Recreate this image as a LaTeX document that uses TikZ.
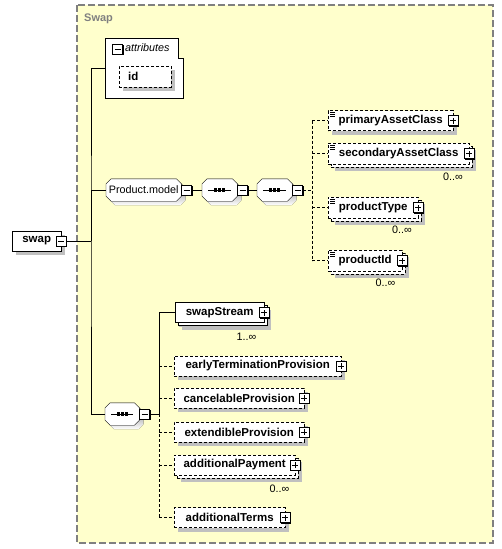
\documentclass[tikz,border=0pt]{standalone}
\usepackage{fontspec}
\setmainfont{Liberation Sans}
\usetikzlibrary{shadows}
\definecolor{schemabg}{HTML}{FFFFCC}
\definecolor{schemaline}{HTML}{808080}
\definecolor{shade}{HTML}{C0C0C0}
\newcommand{\elemfont}{\fontsize{11.5}{13}\selectfont\bfseries}
\newcommand{\notefont}{\fontsize{10.8}{12}\selectfont}
\pgfdeclarelayer{frame}
\pgfdeclarelayer{back}
\pgfsetlayers{frame,back,main}
% octagon outline round a node
\newcommand{\octpath}[1]{([xshift=5pt]#1.north west) -- ([xshift=-5pt]#1.north east) -- ([yshift=-5pt]#1.north east)
  -- ([yshift=5pt]#1.south east) -- ([xshift=-5pt]#1.south east) -- ([xshift=5pt]#1.south west)
  -- ([yshift=5pt]#1.south west) -- ([yshift=-5pt]#1.north west) -- cycle}
\newcommand{\chamfer}[1]{%
  \begin{pgfonlayer}{back}
    \fill[shade, transform canvas={shift={(4pt,-4pt)}}] \octpath{#1};
    \draw[fill=white] \octpath{#1};
  \end{pgfonlayer}}

\begin{document}
\begin{tikzpicture}[x=1pt, y=-1pt, line width=1pt]

\tikzset{elem/.style = {draw, fill=white, anchor=west, font=\elemfont, inner xsep=2pt, inner ysep=0pt, minimum height=20pt,
  drop shadow={shadow xshift=4pt, shadow yshift=-4pt, fill=shade, opacity=1}}}
\tikzset{opt/.style = {elem, dash pattern=on 3pt off 2pt}}
\tikzset{many/.style = {drop shadow={shadow xshift=7pt, shadow yshift=-7pt, fill=shade, opacity=1},
  general shadow={shadow xshift=3pt, shadow yshift=-3pt, draw=black, fill=white, line width=1pt}}}
\tikzset{optmany/.style = {drop shadow={shadow xshift=7pt, shadow yshift=-7pt, fill=shade, opacity=1},
  general shadow={shadow xshift=3pt, shadow yshift=-3pt, draw=black, fill=white, line width=1pt, dash pattern=on 3pt off 2pt}}}
\tikzset{member/.style = {path picture={\foreach \k in {2,4,6}
  \draw[line width=0.8pt, solid] ([xshift=2pt, yshift=-\k pt]path picture bounding box.north west) -- +(5pt,0);}}}
\tikzset{seq/.style = {anchor=west, minimum width=35pt, minimum height=22pt, inner sep=0pt,
  path picture={\draw ([xshift=6pt]path picture bounding box.west) -- ([xshift=-6pt]path picture bounding box.east);
    \foreach \d in {-4,0,4} \fill ([xshift=\d pt]path picture bounding box.center) +(-1.6pt,-1.6pt) rectangle +(1.6pt,1.6pt);}}}
\tikzset{group/.style = {anchor=west, minimum width=75pt, minimum height=22pt, inner sep=0pt, font=\notefont}}
\tikzset{minusbox/.style = {draw, fill=white, solid, minimum size=10pt, inner sep=0pt,
  drop shadow={shadow xshift=1pt, shadow yshift=-1pt, fill=black, opacity=1},
  path picture={\draw[solid] ([xshift=2pt]path picture bounding box.west) -- ([xshift=-2pt]path picture bounding box.east);}}}
\tikzset{plusbox/.style = {minusbox,
  path picture={\draw[solid] ([xshift=2pt]path picture bounding box.west) -- ([xshift=-2pt]path picture bounding box.east);
    \draw[solid] ([yshift=2pt]path picture bounding box.south) -- ([yshift=-2pt]path picture bounding box.north);}}}
\tikzset{mult/.style = {font=\notefont, inner sep=0pt}}

\useasboundingbox (0,0) rectangle (501,549);

%group frame
\begin{pgfonlayer}{frame}
\draw[schemaline, fill=schemabg, line width=1.5pt, dash pattern=on 7pt off 3pt] (77,5) rectangle (493,543);
\end{pgfonlayer}
\node[anchor=west, font=\fontsize{11}{13}\selectfont\bfseries, text=schemaline, inner sep=0pt] (grplabel) at (84,19) {Swap};

%root
\node[elem, minimum width=49pt] (swap) at (12,241) {swap};
\node[minusbox] (swapm) at (swap.east) {};

%attributes
\node[minimum width=78pt, minimum height=60pt, inner sep=0pt] (attrs) at (144,68) {};
\draw[fill=white] (attrs.north west) -- ([xshift=-5pt]attrs.north east) |- ([yshift=-20pt]attrs.north east)
  -- (attrs.south east) -- (attrs.south west) -- cycle;
\node[minusbox] (attrm) at (117.5,49) {};
\node[anchor=west, font=\notefont\itshape, inner sep=0pt] (attrl) at (125,48) {attributes};
\node[opt, minimum height=21pt, text width=34pt, inner xsep=9pt, align=left] (id) at (119,76.5) {id};

%product model
\node[group] (pm) at (106,190) {Product.model};
\chamfer{pm}
\node[minusbox, anchor=west] (pmm) at (pm.east) {};
\node[seq] (seq1) at (202,190) {};
\chamfer{seq1}
\node[minusbox, anchor=west] (seq1m) at (seq1.east) {};
\node[seq] (seq2) at (257,190) {};
\chamfer{seq2}
\node[minusbox, anchor=west] (seq2m) at (seq2.east) {};

\node[opt, member, minimum width=125pt] (pac) at (328,120.5) {primaryAssetClass};
\node[plusbox] (pacp) at (pac.east) {};
\node[opt, optmany, member, minimum width=141pt, minimum height=21pt] (sac) at (328,153.5) {secondaryAssetClass};
\node[plusbox] (sacp) at (sac.east) {};
\node[mult] (sacmult) at (453,177) {0..∞};
\node[opt, optmany, member, minimum width=90pt, minimum height=21pt] (ptype) at (328,207.5) {productType};
\node[plusbox] (ptypep) at (ptype.east) {};
\node[mult] (ptypemult) at (402,230) {0..∞};
\node[opt, optmany, member, minimum width=74pt, minimum height=21pt] (pid) at (328,260.5) {productId};
\node[plusbox] (pidp) at (pid.east) {};
\node[mult] (pidmult) at (385.5,283) {0..∞};

%streams and provisions
\node[seq, minimum width=34pt] (seq3) at (105,414) {};
\chamfer{seq3}
\node[minusbox, anchor=west] (seq3m) at (seq3.east) {};

\node[elem, many, minimum width=89pt] (ss) at (175,312.5) {swapStream};
\node[plusbox] (ssp) at (ss.east) {};
\node[mult] (ssmult) at (246.5,337) {1..∞};
\node[opt, minimum width=167pt] (etp) at (174,366) {earlyTerminationProvision};
\node[plusbox] (etpp) at (etp.east) {};
\node[opt, minimum width=130pt] (cp) at (174,398) {cancelableProvision};
\node[plusbox] (cpp) at (cp.east) {};
\node[opt, minimum width=130pt] (ep) at (174,432) {extendibleProvision};
\node[plusbox] (epp) at (ep.east) {};
\node[opt, optmany, minimum width=121pt] (ap) at (174,465) {additionalPayment};
\node[plusbox] (app) at (ap.east) {};
\node[mult] (apmult) at (279.5,489) {0..∞};
\node[opt, minimum width=111pt] (at) at (174,517.5) {additionalTerms};
\node[plusbox] (atp) at (at.east) {};

%connectors
\coordinate (trunk) at (91,241);
\coordinate (gbranch) at (312,190);
\coordinate (sbranch) at (159,414);
\draw (swapm.east) -- (trunk);
\draw (attrs.west) -| (trunk) |- (seq3.west);
\draw (trunk) |- (pm.west);
\draw (pmm.east) -- (seq1.west);
\draw (seq1m.east) -- (seq2.west);
\draw[dash pattern=on 3pt off 2pt] (seq2m.east) -- (gbranch);
\draw[dash pattern=on 3pt off 2pt] (pac.west -| gbranch) -- (pid.west -| gbranch);
\foreach \n in {pac, sac, ptype, pid}
  \draw[dash pattern=on 3pt off 2pt] (\n.west -| gbranch) -- (\n.west);
\draw (seq3m.east) -- (sbranch);
\draw (ss.west) -| (sbranch);
\draw[dash pattern=on 3pt off 2pt] (sbranch) -- (at.west -| sbranch);
\foreach \n in {etp, cp, ep, ap, at}
  \draw[dash pattern=on 3pt off 2pt] (\n.west -| sbranch) -- (\n.west);

\end{tikzpicture}
\end{document}
